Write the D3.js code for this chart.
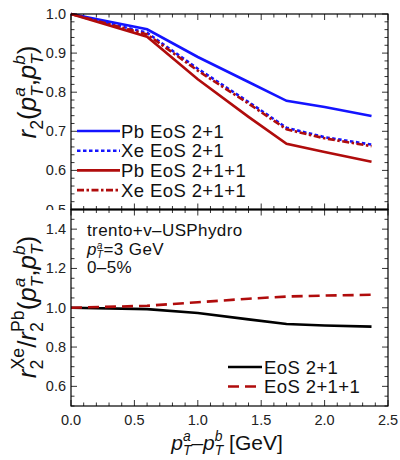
<!DOCTYPE html>
<html><head><meta charset="utf-8">
<script src="https://cdn.jsdelivr.net/npm/d3@7"></script>
<style>body{margin:0;background:#fff}svg{font-family:"Liberation Sans",Arial,sans-serif}</style>
</head><body><svg id="c" width="400" height="460"></svg>
<script>
// ---- data ----
const pT = [0, 0.6, 1.0, 1.4, 1.7, 2.0, 2.37];
const pbEoS21 = [1.0, 0.961, 0.890, 0.826, 0.778, 0.762, 0.739];
const xeEoS21 = [1.0, 0.952, 0.860, 0.775, 0.709, 0.685, 0.666];
const pbEoS211 = [1.0, 0.942, 0.833, 0.737, 0.668, 0.647, 0.622];
const xeEoS211 = [1.0, 0.948, 0.855, 0.771, 0.705, 0.682, 0.662];
const ratioEoS21 = [1.0, 0.993, 0.973, 0.941, 0.917, 0.910, 0.904];
const ratioEoS211 = [1.0, 1.010, 1.028, 1.046, 1.057, 1.062, 1.066];
const xTicks = [0, 0.5, 1.0, 1.5, 2.0, 2.5];
const topTicks = [0.5, 0.6, 0.7, 0.8, 0.9, 1.0];
const botTicks = [0.6, 0.8, 1.0, 1.2, 1.4];

const BLUE = "#1414ff", RED = "#b00c0c", BLACK = "#000";
const svg = d3.select("#c");
const L = 71, R = 388, T1 = 14, B1 = 209.5, T2 = 209.5, B2 = 406;
const x = d3.scaleLinear().domain([0, 2.5]).range([L, R]);
const y1 = d3.scaleLinear().domain([0.5, 1.0]).range([B1, T1]);
const y2 = d3.scaleLinear().domain([0.5, 1.5]).range([B2, T2]);

const topSeries = [
  {name: "Pb EoS 2+1", v: pbEoS21, c: BLUE, dash: null},
  {name: "Xe EoS 2+1", v: xeEoS21, c: BLUE, dash: "3.5,2.5"},
  {name: "Pb EoS 2+1+1", v: pbEoS211, c: RED, dash: null},
  {name: "Xe EoS 2+1+1", v: xeEoS211, c: RED, dash: "7,2.5,2.5,2.5"}
];
const botSeries = [
  {name: "EoS 2+1", v: ratioEoS21, c: BLACK, dash: null},
  {name: "EoS 2+1+1", v: ratioEoS211, c: RED, dash: "11,6"}
];

function drawPanel(y, T, B, major, minorStep) {
  const g = svg.append("g");
  const minors = d3.range(y.domain()[0], y.domain()[1] + 1e-9, minorStep);
  const xMin = d3.range(0, 2.5 + 1e-9, 0.1);
  const isMajX = v => Math.abs(v * 2 - Math.round(v * 2)) < 1e-6;
  minors.forEach(v => {
    const maj = major.some(m => Math.abs(m - v) < 1e-6);
    const l = maj ? 6 : 3.5;
    g.append("line").attr("x1", L).attr("x2", L + l).attr("y1", y(v)).attr("y2", y(v)).attr("stroke", "#000").attr("stroke-width", 0.8);
    g.append("line").attr("x1", R).attr("x2", R - l).attr("y1", y(v)).attr("y2", y(v)).attr("stroke", "#000").attr("stroke-width", 0.8);
  });
  xMin.forEach(v => {
    const l = isMajX(v) ? 6 : 3.5;
    g.append("line").attr("x1", x(v)).attr("x2", x(v)).attr("y1", B).attr("y2", B - l).attr("stroke", "#000").attr("stroke-width", 0.8);
    g.append("line").attr("x1", x(v)).attr("x2", x(v)).attr("y1", T).attr("y2", T + l).attr("stroke", "#000").attr("stroke-width", 0.8);
  });
  major.forEach(v => {
    g.append("text").attr("x", L - 5).attr("y", y(v) + 5).attr("text-anchor", "end")
      .attr("font-size", 14.5).attr("fill", "#222").text(d3.format(".1f")(v));
  });
  return g;
}

svg.append("defs").append("clipPath").attr("id", "topclip").append("rect").attr("x", 0).attr("y", 0).attr("width", L).attr("height", B1 + 0.5);
const gTop = drawPanel(y1, T1, B1, topTicks, 0.02);
gTop.selectAll("text").attr("clip-path", "url(#topclip)");
drawPanel(y2, T2, B2, botTicks, 0.05);

xTicks.forEach(v => svg.append("text").attr("x", x(v)).attr("y", 425).attr("text-anchor", "middle")
  .attr("font-size", 14.5).attr("fill", "#222").text(d3.format(".1f")(v)));

const line1 = d3.line().x((d, i) => x(pT[i])).y(d => y1(d));
const line2 = d3.line().x((d, i) => x(pT[i])).y(d => y2(d));
topSeries.forEach(s => svg.append("path").attr("d", line1(s.v)).attr("fill", "none").attr("stroke", s.c)
  .attr("stroke-width", 2.6).attr("stroke-dasharray", s.dash));
botSeries.forEach(s => svg.append("path").attr("d", line2(s.v)).attr("fill", "none").attr("stroke", s.c)
  .attr("stroke-width", 2.6).attr("stroke-dasharray", s.dash));

svg.append("rect").attr("x", L).attr("y", T1).attr("width", R - L).attr("height", B1 - T1).attr("fill", "none").attr("stroke", "#000").attr("stroke-width", 1.2);
svg.append("rect").attr("x", L).attr("y", T2).attr("width", R - L).attr("height", B2 - T2).attr("fill", "none").attr("stroke", "#000").attr("stroke-width", 1.2);
svg.append("line").attr("x1", L).attr("x2", R).attr("y1", B1).attr("y2", B1).attr("stroke", "#000").attr("stroke-width", 1.8);

const LFS = 18.5, LLS = 0.4;
topSeries.forEach((s, i) => {
  const yy = 131 + i * 19.7;
  svg.append("line").attr("x1", 77).attr("x2", 120).attr("y1", yy).attr("y2", yy).attr("stroke", s.c)
    .attr("stroke-width", 2.6).attr("stroke-dasharray", s.dash);
  svg.append("text").attr("x", 121).attr("y", yy + 6.5).attr("font-size", LFS).attr("letter-spacing", LLS).attr("fill", "#111").text(s.name);
});
botSeries.forEach((s, i) => {
  const yy = 367 + i * 19.5;
  svg.append("line").attr("x1", 228).attr("x2", 262).attr("y1", yy).attr("y2", yy).attr("stroke", s.c)
    .attr("stroke-width", 2.6).attr("stroke-dasharray", s.dash);
  svg.append("text").attr("x", 264).attr("y", yy + 6.5).attr("font-size", LFS).attr("letter-spacing", LLS).attr("fill", "#111").text(s.name);
});

// rich text helper: one <text> with positioned tspans
function rich(parent, runs, fs, ls) {
  const t = parent.append("text").attr("fill", "#111").attr("letter-spacing", ls || 0);
  let cx = 0, held = 0;
  runs.forEach(r => {
    const ts = t.append("tspan").attr("x", cx).attr("y", (r.dy || 0) * fs).attr("font-size", fs * (r.s || 1))
      .attr("font-style", r.i ? "italic" : "normal").text(r.t);
    const w = ts.node().getComputedTextLength();
    if (r.hold) { held = w; }
    else { cx += Math.max(w, held); held = 0; }
  });
  return {t, w: cx};
}
const pa = [{t: "p", i: true}, {t: "a", i: true, s: 0.66, dy: -0.42, hold: true}, {t: "T", i: true, s: 0.66, dy: 0.26}];
const pb = [{t: "p", i: true}, {t: "b", i: true, s: 0.66, dy: -0.42, hold: true}, {t: "T", i: true, s: 0.66, dy: 0.26}];
const paSmall = [{t: "p", i: true}, {t: "a", i: true, s: 0.6, dy: -0.36, hold: true}, {t: "T", i: true, s: 0.6, dy: 0.2}];

{
  const runs = [{t: "r", i: true}, {t: "2", s: 0.68, dy: 0.28}, {t: "("}, ...pa, {t: ","}, ...pb, {t: ")"}];
  const gg = svg.append("g");
  const r = rich(gg, runs, 26);
  gg.attr("transform", `translate(36,92) rotate(-90) translate(${-r.w / 2},0)`);
}
{
  const runs = [{t: "r", i: true}, {t: "Xe", s: 0.68, dy: -0.45, hold: true}, {t: "2", s: 0.68, dy: 0.28}, {t: "/"},
    {t: "r", i: true}, {t: "Pb", s: 0.68, dy: -0.45, hold: true}, {t: "2", s: 0.68, dy: 0.28}, {t: "("}, ...pa, {t: ","}, ...pb, {t: ")"}];
  const gg = svg.append("g");
  const r = rich(gg, runs, 26);
  gg.attr("transform", `translate(36,307) rotate(-90) translate(${-r.w / 2},0)`);
}
{
  const runs = [...pa, {t: "\u2013"}, ...pb, {t: "\u00a0[GeV]"}];
  const gg = svg.append("g");
  const r = rich(gg, runs, 21);
  gg.attr("transform", `translate(${227 - r.w / 2},450)`);
}
const AFS = 17;
svg.append("text").attr("x", 87).attr("y", 236).attr("font-size", AFS).attr("letter-spacing", 0.4).attr("fill", "#111").text("trento+v\u2013USPhydro");
{
  const runs = [...paSmall, {t: "=3 GeV"}];
  const gg = svg.append("g");
  rich(gg, runs, AFS, 0.4);
  gg.attr("transform", "translate(87,255)");
}
svg.append("text").attr("x", 87).attr("y", 273).attr("font-size", AFS).attr("letter-spacing", 0.4).attr("fill", "#111").text("0\u20135%");
</script></body></html>
